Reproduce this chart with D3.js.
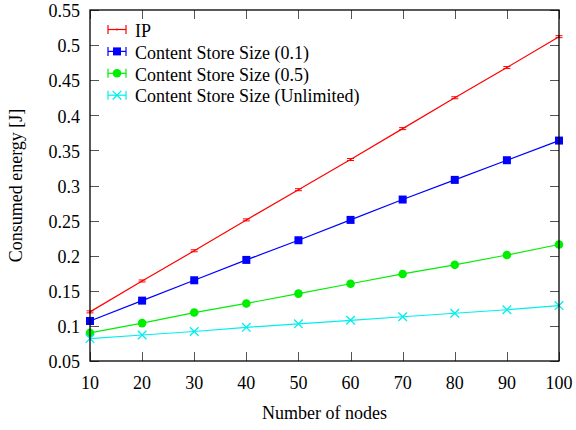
<!DOCTYPE html>
<html>
<head>
<meta charset="utf-8">
<script src="https://cdn.jsdelivr.net/npm/d3@7"></script>
<style>
  html, body { margin: 0; padding: 0; background: #fff; }
</style>
</head>
<body>
<svg id="chart" width="576" height="430"></svg>
<script>
// Energy consumed versus network size
const nodes = [10, 20, 30, 40, 50, 60, 70, 80, 90, 100];
const ipEnergy = [0.120, 0.164, 0.207, 0.251, 0.294, 0.337, 0.381, 0.425, 0.468, 0.512];
const cs01Energy = [0.107, 0.136, 0.165, 0.194, 0.222, 0.251, 0.280, 0.308, 0.336, 0.364];
const cs05Energy = [0.090, 0.104, 0.119, 0.132, 0.146, 0.160, 0.174, 0.187, 0.201, 0.216];
const csUnlEnergy = [0.082, 0.087, 0.092, 0.098, 0.103, 0.108, 0.113, 0.118, 0.123, 0.129];
const seriesNames = ["IP", "Content Store Size (0.1)", "Content Store Size (0.5)", "Content Store Size (Unlimited)"];
const seriesColors = ["#ff0000", "#0000ff", "#00ee00", "#00eeee"];
const seriesMarkers = ["bar", "square", "circle", "cross"];
const xTicks = [10, 20, 30, 40, 50, 60, 70, 80, 90, 100];
const yTicks = [0.05, 0.1, 0.15, 0.2, 0.25, 0.3, 0.35, 0.4, 0.45, 0.5, 0.55];

const seriesValues = [ipEnergy, cs01Energy, cs05Energy, csUnlEnergy];

const FONT = '"Liberation Serif", "Times New Roman", Times';
const svg = d3.select("#chart");
const margin = { left: 90, right: 17, top: 10, bottom: 69 };
const W = 576, H = 430;
const x = d3.scaleLinear().domain([10, 100]).range([margin.left, W - margin.right]);
const y = d3.scaleLinear().domain([0.05, 0.55]).range([H - margin.bottom, margin.top]);
const fontSize = 18;
const tickLen = 9;

const x0 = x.range()[0], x1 = x.range()[1];
const y0 = y.range()[0], y1 = y.range()[1];

// Inward ticks on all four sides
const ticks = svg.append("g").attr("stroke", "#555").attr("stroke-width", 1);
yTicks.forEach(v => {
  const yy = Math.round(y(v)) + 0.5;
  ticks.append("line").attr("x1", x0).attr("x2", x0 + tickLen).attr("y1", yy).attr("y2", yy);
  ticks.append("line").attr("x1", x1).attr("x2", x1 - tickLen).attr("y1", yy).attr("y2", yy);
});
xTicks.forEach(v => {
  const xx = Math.round(x(v)) + 0.5;
  ticks.append("line").attr("x1", xx).attr("x2", xx).attr("y1", y0).attr("y2", y0 - tickLen);
  ticks.append("line").attr("x1", xx).attr("x2", xx).attr("y1", y1).attr("y2", y1 + tickLen);
});

// Tick labels
svg.append("g").selectAll("text").data(yTicks).join("text")
  .style("font-family", FONT)
  .attr("x", x0 - 10).attr("y", d => y(d)).attr("dy", "0.4em")
  .attr("text-anchor", "end").attr("font-size", fontSize).attr("fill", "#000")
  .text(d => String(+d.toFixed(2)));
svg.append("g").selectAll("text").data(xTicks).join("text")
  .style("font-family", FONT)
  .attr("x", d => x(d)).attr("y", y0 + 28)
  .attr("text-anchor", "middle").attr("font-size", fontSize).attr("fill", "#000")
  .text(d => d);

// Axis titles
svg.append("text").style("font-family", FONT).attr("x", (x0 + x1) / 2).attr("y", 419)
  .attr("text-anchor", "middle").attr("font-size", fontSize).text("Number of nodes");
svg.append("text").style("font-family", FONT)
  .attr("transform", `translate(22,${(y0 + y1) / 2}) rotate(-90)`)
  .attr("text-anchor", "middle").attr("font-size", fontSize).text("Consumed energy [J]");

// Marker drawing
function drawMarker(g, type, color, cx, cy) {
  if (type === "bar") {
    g.append("line").attr("x1", cx - 3.5).attr("x2", cx + 3.5).attr("y1", cy - 1).attr("y2", cy - 1)
      .attr("stroke", color).attr("stroke-width", 1);
    g.append("line").attr("x1", cx - 3.5).attr("x2", cx + 3.5).attr("y1", cy + 1).attr("y2", cy + 1)
      .attr("stroke", color).attr("stroke-width", 1);
    g.append("line").attr("x1", cx).attr("x2", cx).attr("y1", cy - 1).attr("y2", cy + 1)
      .attr("stroke", color).attr("stroke-width", 1);
  } else if (type === "square") {
    g.append("rect").attr("x", cx - 4).attr("y", cy - 4).attr("width", 8).attr("height", 8).attr("fill", color);
  } else if (type === "circle") {
    g.append("circle").attr("cx", cx).attr("cy", cy).attr("r", 4.3).attr("fill", color);
  } else if (type === "cross") {
    const s = 4.3;
    g.append("path").attr("d", `M${cx - s},${cy - s}L${cx + s},${cy + s}M${cx - s},${cy + s}L${cx + s},${cy - s}`)
      .attr("stroke", color).attr("stroke-width", 1.3).attr("fill", "none");
  }
}

// Series lines and markers
const line = d3.line().x(d => x(d[0])).y(d => y(d[1]));
seriesValues.forEach((vals, i) => {
  const pts = nodes.map((n, j) => [n, vals[j]]);
  const g = svg.append("g");
  g.append("path").attr("d", line(pts)).attr("fill", "none")
    .attr("stroke", seriesColors[i]).attr("stroke-width", 1.2);
  pts.forEach(p => drawMarker(g, seriesMarkers[i], seriesColors[i], x(p[0]), y(p[1])));
});

// Legend
const legend = svg.append("g");
seriesNames.forEach((name, i) => {
  const ly = 29.5 + i * 21.9;
  const c = seriesColors[i];
  const lx0 = 108, lx1 = 126;
  legend.append("line").attr("x1", lx0).attr("x2", lx1).attr("y1", ly).attr("y2", ly)
    .attr("stroke", c).attr("stroke-width", 1.2);
  legend.append("line").attr("x1", lx0).attr("x2", lx0).attr("y1", ly - 4.5).attr("y2", ly + 4.5)
    .attr("stroke", c).attr("stroke-width", 1.2);
  legend.append("line").attr("x1", lx1).attr("x2", lx1).attr("y1", ly - 4.5).attr("y2", ly + 4.5)
    .attr("stroke", c).attr("stroke-width", 1.2);
  if (seriesMarkers[i] !== "bar") drawMarker(legend, seriesMarkers[i], c, (lx0 + lx1) / 2, ly);
  else legend.append("circle").attr("cx", (lx0 + lx1) / 2).attr("cy", ly).attr("r", 1).attr("fill", c);
  legend.append("text").style("font-family", FONT).attr("x", 135).attr("y", ly).attr("dy", "0.4em")
    .attr("font-size", fontSize).text(name);
});

// Plot frame
svg.append("rect").attr("x", x0).attr("y", y1).attr("width", x1 - x0).attr("height", y0 - y1)
  .attr("fill", "none").attr("stroke", "#000").attr("stroke-width", 1.3);
</script>
</body>
</html>
